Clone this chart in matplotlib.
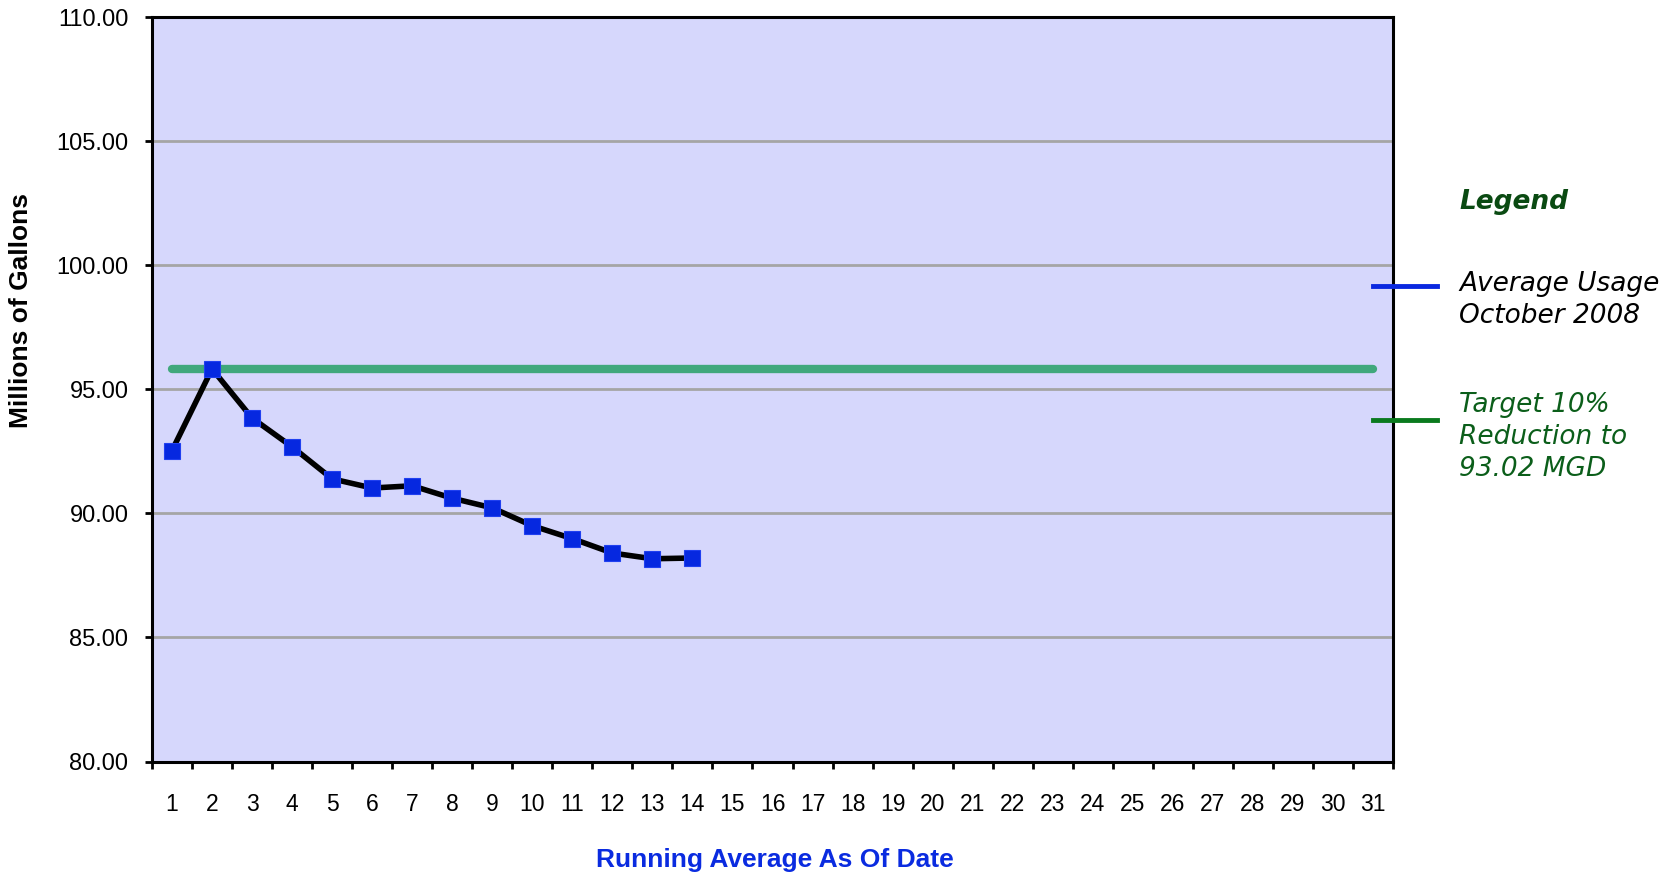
import numpy as np
import matplotlib.pyplot as plt

# running average per day (millions of gallons)
days = list(range(1, 32))
avg_days = list(range(1, 15))
avg_usage = [92.53, 95.82, 93.84, 92.68, 91.39, 91.02, 91.11,
             90.61, 90.22, 89.50, 88.98, 88.40, 88.17, 88.20]
target = 95.82
y_ticks = [80, 85, 90, 95, 100, 105, 110]

W, H = 1670, 874
fig = plt.figure(figsize=(W / 100, H / 100), dpi=100)
ax = fig.add_axes([152 / W, 1 - 761.5 / H, 1241 / W, 744.5 / H])
ax.set_facecolor("#d6d7fc")

ax.plot([days[0], days[-1]], [target, target], color="#40a87c",
        linewidth=6, solid_capstyle="round", zorder=3)
ax.plot(avg_days, avg_usage, color="black", linewidth=4, zorder=4,
        marker="s", markersize=11, markerfacecolor="#0628e0",
        markeredgecolor="#2040f0", markeredgewidth=0.8)

ax.set_xlim(0.5, 31.5)
ax.set_ylim(80, 110)
ax.set_yticks(y_ticks)
ax.set_yticklabels([f"{v:.2f}" for v in y_ticks], fontsize=17,
                   family="Liberation Sans")
ax.yaxis.grid(True, color="#a5a5a5", linewidth=2)
ax.set_axisbelow(True)

# category boundaries get tick marks, labels sit at centres
ax.set_xticks(np.arange(0.5, 32, 1))
ax.set_xticklabels([])
ax.set_xticks(days, minor=True)
ax.set_xticklabels([str(d) for d in days], minor=True, fontsize=16.5,
                   family="Liberation Sans")
ax.tick_params(axis="x", which="major", length=5, width=2, direction="out")
ax.tick_params(axis="x", which="minor", length=0, pad=23)
ax.tick_params(axis="y", length=5, width=2, direction="out", pad=12)

for s in ax.spines.values():
    s.set_linewidth(2.2)

fig.text(21 / W, 1 - 310 / H, "Millions of Gallons", fontsize=19,
         fontweight="bold", family="Liberation Sans", rotation=90,
         ha="center", va="center")
fig.text(775 / W, 1 - 860 / H, "Running Average As Of Date", fontsize=19,
         fontweight="bold", color="#0a2be0", family="Liberation Sans",
         ha="center", va="center")

# hand-drawn legend to the right of the plot
fig.add_artist(plt.Line2D([1373 / W, 1437 / W], [1 - 286 / H] * 2,
                          color="#0a28e0", linewidth=3.5))
fig.add_artist(plt.Line2D([1373 / W, 1437 / W], [1 - 420 / H] * 2,
                          color="#0a7a1e", linewidth=3.5))
fig.text(1459 / W, 1 - 202 / H, "Legend", fontsize=19,
         fontweight="bold", style="italic", color="#0a4a12", va="center")
fig.text(1459 / W, 1 - 300 / H, "Average Usage\nOctober 2008",
         fontsize=19, style="italic", color="black", va="center",
         linespacing=1.3)
fig.text(1459 / W, 1 - 437 / H, "Target 10%\nReduction to\n93.02 MGD",
         fontsize=19, style="italic", color="#0b5e1a", va="center",
         linespacing=1.3)

fig.savefig("out.png", dpi=100)
